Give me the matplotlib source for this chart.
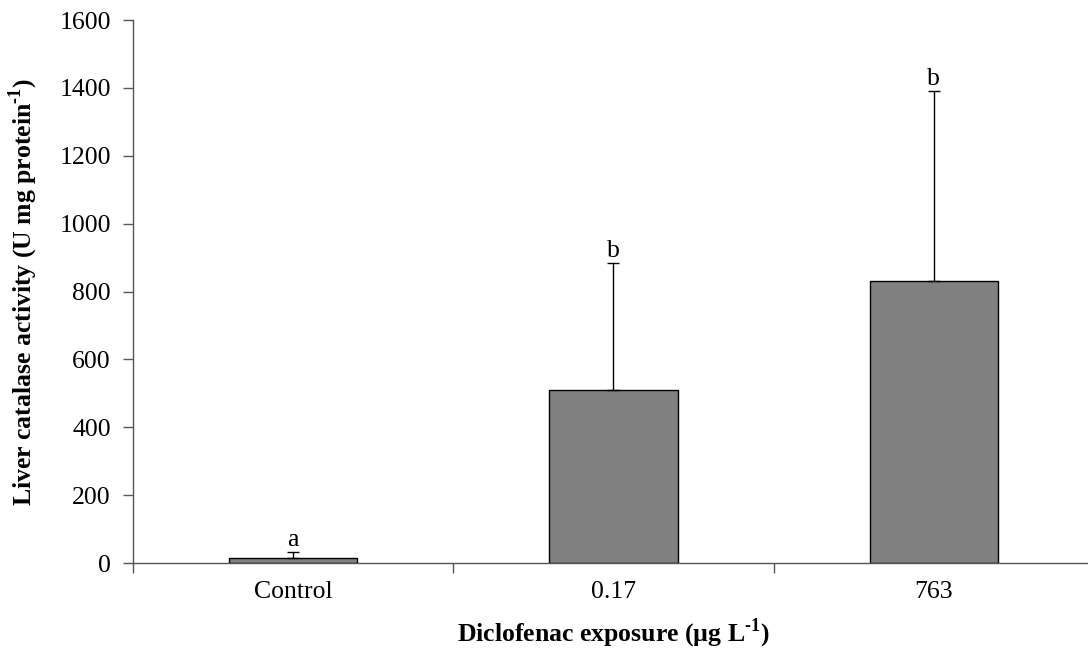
import matplotlib
matplotlib.use("Agg")
import matplotlib.pyplot as plt
import numpy as np

# Liver catalase activity after diclofenac exposure (mean + SD)
groups = ["Control", "0.17", "763"]
means = [16, 510, 832]
sd_up = [16, 374, 558]
letters = ["a", "b", "b"]

plt.rcParams["font.family"] = "Liberation Serif"
plt.rcParams["mathtext.fontset"] = "custom"
plt.rcParams["mathtext.rm"] = "Liberation Serif"
plt.rcParams["mathtext.bf"] = "Liberation Serif:bold"

fig = plt.figure(figsize=(10.88, 6.5), dpi=100)
ax = fig.add_axes([0.1222, 0.1338, 0.8833, 0.8354])

x = np.arange(len(groups)) + 0.5
ax.bar(x, means, width=0.4, color="#808080", edgecolor="black", linewidth=1.0,
       zorder=2)
ax.errorbar(x, means, yerr=[np.zeros(len(means)), sd_up], fmt="none",
            ecolor="black", elinewidth=1.0, capsize=4.5, capthick=1.0, zorder=3)

for xi, m, e, lab in zip(x, means, sd_up, letters):
    ax.annotate(lab, (xi, m + e), xytext=(0, 1), textcoords="offset points",
                ha="center", va="bottom", fontsize=18.5)

ax.set_xlim(0, 3)
ax.set_ylim(0, 1600)
ax.set_yticks(np.arange(0, 1601, 200))

# category boundaries get the tick marks, labels sit at the bar centres
ax.set_xticks([0, 1, 2, 3])
ax.set_xticklabels([])
ax.set_xticks(x, minor=True)
ax.set_xticklabels(groups, minor=True)
ax.tick_params(axis="x", which="minor", length=0, pad=13, labelsize=18.5)
ax.tick_params(axis="x", which="major", length=7, width=1, color="#555555",
               direction="out")
ax.tick_params(axis="y", length=7, width=1, color="#555555", direction="out",
               labelsize=18.5, pad=9)

for side in ("top", "right"):
    ax.spines[side].set_visible(False)
for side in ("left", "bottom"):
    ax.spines[side].set_color("#555555")
    ax.spines[side].set_linewidth(1.0)

ax.set_ylabel("Liver catalase activity (U mg protein$^{\\mathbf{\u20101}}$)",
              fontsize=18.5, fontweight="bold", labelpad=14)
ax.set_xlabel("Diclofenac exposure (µg L$^{\\mathbf{\u20101}}$)",
              fontsize=18.5, fontweight="bold", labelpad=10)

fig.savefig("out.png", dpi=100)
